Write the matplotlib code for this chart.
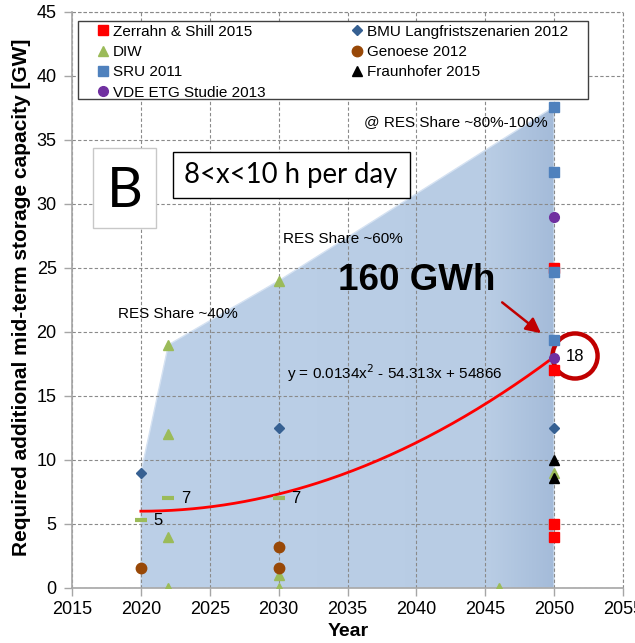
import numpy as np
import matplotlib.pyplot as plt
from matplotlib.patches import Polygon, Rectangle, Ellipse
from matplotlib.colors import LinearSegmentedColormap

plt.rcParams['font.family'] = ['Liberation Sans', 'DejaVu Sans']

# Studien-Werte (Jahr, GW)
zerrahn_x = [2050, 2050, 2050, 2050]
zerrahn_y = [25, 17, 5, 4]
bmu_x = [2020, 2030, 2050]
bmu_y = [9, 12.5, 12.5]
diw_x = [2022, 2022, 2022, 2022, 2030, 2030, 2030, 2046, 2050]
diw_y = [19, 12, 4, 0, 24, 1, 0, 0, 9]
genoese_x = [2020, 2030, 2030]
genoese_y = [1.6, 3.2, 1.6]
sru_x = [2050, 2050, 2050, 2050]
sru_y = [37.6, 32.5, 24.7, 19.4]
fraunhofer_x = [2050, 2050]
fraunhofer_y = [10, 8.6]
vde_x = [2050, 2050]
vde_y = [29, 18]

# DIW Mittelwerte mit Beschriftung
diw_mean_x = [2020, 2022, 2030]
diw_mean_y = [5.3, 7, 7]

# Bandbreite (Hüllfläche)
band_x = [2020, 2020, 2022, 2030, 2050, 2050]
band_y = [0, 9, 19, 24, 37.6, 0]

# Trendlinie, t = Jahr - 2020
trend_a, trend_b, trend_c = 0.0134, 0.0, 6.0
trend_start, trend_end = 2020, 2050

fig = plt.figure(figsize=(6.35, 6.43), dpi=100)
ax = fig.add_axes([72/635, 55/643, 551/635, 576/643])
ax.set_xlim(2015, 2055)
ax.set_ylim(0, 45)
ax.set_xticks(np.arange(2015, 2056, 5))
ax.set_yticks(np.arange(0, 46, 5))

# Fläche mit leichtem Verlauf zum rechten Rand
band = Polygon(np.column_stack([band_x, band_y]), closed=True, facecolor='none',
               edgecolor='#d5e2f2', lw=1.0, zorder=0.9)
ax.add_patch(band)
cmap = LinearSegmentedColormap.from_list('band', [(0, '#bcd0e8'), (0.85, '#b8cce4'), (1, '#a4bbd9')])
grad = np.linspace(0, 1, 256).reshape(1, -1)
img = ax.imshow(grad, extent=[min(band_x), max(band_x), 0, max(band_y)], aspect='auto',
                cmap=cmap, zorder=0.8, origin='lower')
img.set_clip_path(band)

grid_style = dict(color='#8a8a8a', linestyle=(0, (3, 2)), lw=0.8)
ax.grid(True, zorder=1.5, **grid_style)
ax.axhline(45, clip_on=False, zorder=1.5, **grid_style)
ax.axvline(2055, clip_on=False, zorder=1.5, **grid_style)
for s in ['top', 'right']:
    ax.spines[s].set_visible(False)
for s in ['left', 'bottom']:
    ax.spines[s].set_color('#a6a6a6')
    ax.spines[s].set_linewidth(1.2)
ax.tick_params(axis='both', colors='#a6a6a6', labelcolor='black', labelsize=13, length=6, width=1)
ax.tick_params(axis='y', pad=5)

# Trendlinie
tx = np.linspace(trend_start, trend_end, 200)
tt = tx - trend_start
ax.plot(tx, trend_a * tt**2 + trend_b * tt + trend_c, color='#ff0000', lw=2, zorder=3)

ms = dict(linestyle='none', zorder=4)
ax.plot(zerrahn_x, zerrahn_y, 's', color='#ff0000', ms=7, label='Zerrahn & Shill 2015', **ms)
ax.plot(diw_x, diw_y, '^', color='#9bbb59', ms=7, label='DIW', **ms)
ax.plot(sru_x, sru_y, 's', color='#4f81bd', ms=7, label='SRU 2011', **ms)
ax.plot(vde_x, vde_y, 'o', color='#7030a0', ms=7, label='VDE ETG Studie 2013', **ms)
ax.plot(bmu_x, bmu_y, 'D', color='#366092', ms=5.5, label='BMU Langfristszenarien 2012', **ms)
ax.plot(genoese_x, genoese_y, 'o', color='#984807', ms=7.5, label='Genoese 2012', **ms)
ax.plot(fraunhofer_x, fraunhofer_y, '^', color='black', ms=7, label='Fraunhofer 2015', **ms)

ax.plot(diw_mean_x, diw_mean_y, '_', color='#9bbb59', ms=8, mew=3, zorder=4)
for x, y in zip(diw_mean_x, diw_mean_y):
    ax.annotate(f'{y:.0f}', (x, y), xytext=(9, 0), textcoords='offset points',
                va='center', ha='left', fontsize=12)

# Legende ohne eigenen Rahmen, Rahmen separat
ax.add_patch(Rectangle((0.0114, 0.849), 0.925, 0.136, transform=ax.transAxes, facecolor='white',
                       edgecolor='#404040', lw=1, zorder=4.5))
leg = ax.legend(loc='upper left', bbox_to_anchor=(0.0378, 0.84, 0.871, 0.1458), mode='expand',
                ncol=2, fontsize=11, frameon=False, borderaxespad=0,
                handlelength=0.7, handletextpad=0.3, labelspacing=0.41, borderpad=0.3)
leg.set_zorder(5)

ax.text(2018.34, 21.4, 'RES Share ~40%', fontsize=11, va='center', ha='left')
ax.text(2030.3, 27.27, 'RES Share ~60%', fontsize=11, va='center', ha='left')
ax.text(2036.2, 36.4, '@ RES Share ~80%-100%', fontsize=11, va='center', ha='left')
ax.text(2034.3, 24.0, '160 GWh', fontsize=26.5, fontweight='bold', va='center', ha='left')
ax.text(2030.6, 16.8, 'y = 0.0134x$^2$ - 54.313x + 54866', fontsize=11, va='center', ha='left')

# Kästen "B" und Zeitbereich
ax.add_patch(Rectangle((2016.52, 28.125), 4.58, 6.25, facecolor='white', edgecolor='#c8c8c8', lw=1, zorder=5))
ax.text(2018.81, 31.0, 'B', fontsize=40, family='Lato', ha='center', va='center', zorder=6)
ax.add_patch(Rectangle((2022.33, 30.5), 17.2, 3.6, facecolor='white', edgecolor='black', lw=1, zorder=5))
ax.text(2023.1, 32.3, '8<x<10 h per day', fontsize=19.8, family='Lato', ha='left', va='center', zorder=6)

# Pfeil und Kreis um den Zielwert
ax.annotate('', xy=(2049.2, 19.77), xytext=(2046.07, 22.45),
            arrowprops=dict(arrowstyle='-|>,head_width=0.45,head_length=0.9', color='#c00000', lw=1.8),
            zorder=6)
ax.add_patch(Ellipse((2051.52, 18.125), 3.27, 3.52, facecolor='white', edgecolor='#c00000', lw=3.2, zorder=3.5))
ax.text(2051.55, 18.1, '18', fontsize=12, ha='center', va='center', zorder=6)

fig.text(22/635, 1 - 297/643, 'Required additional mid-term storage capacity [GW]', rotation=90,
         fontsize=15, fontweight='bold', ha='center', va='center')
fig.text(348/635, 11/643, 'Year', fontsize=14, fontweight='bold', ha='center', va='center')

fig.savefig('out.png', dpi=100)
